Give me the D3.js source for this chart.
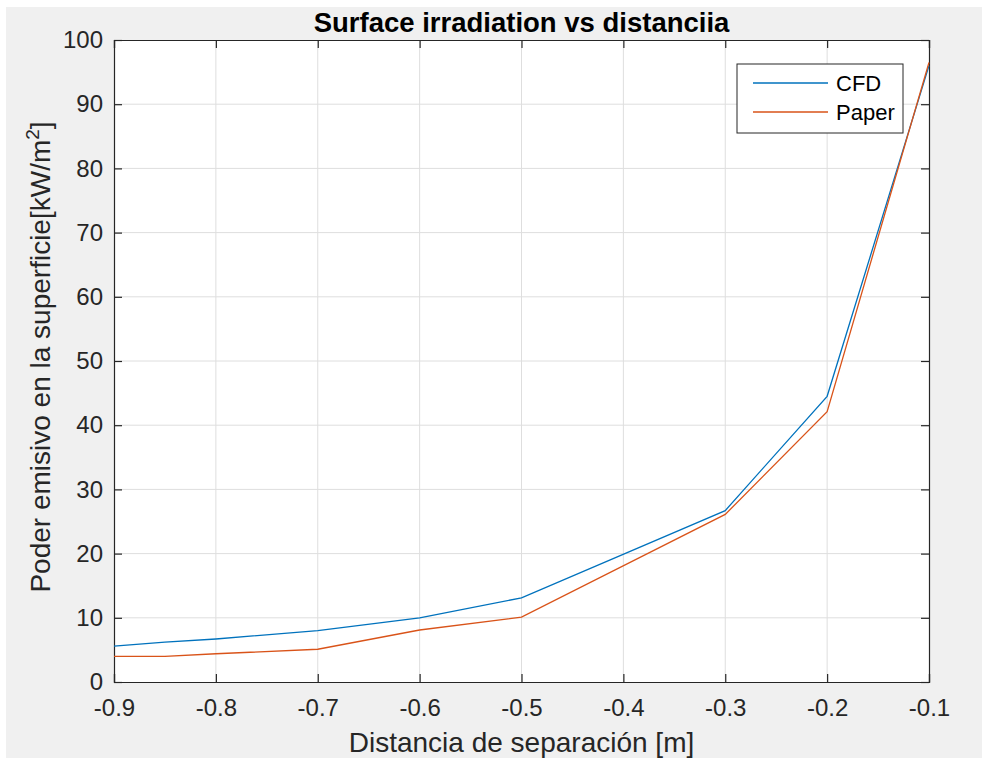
<!DOCTYPE html>
<html>
<head>
<meta charset="utf-8">
<script src="https://cdn.jsdelivr.net/npm/d3@7"></script>
<style>
  html, body { margin: 0; padding: 0; background: #f0f0f0; }
  svg { display: block; font-family: "Liberation Sans", Arial, Helvetica, sans-serif; }
</style>
</head>
<body>
<svg id="chart" width="982" height="758"></svg>
<script>
// Separation distance [m]
const distance = [-0.9, -0.85, -0.8, -0.7, -0.6, -0.5, -0.3, -0.2, -0.1];
// Surface emissive power [kW/m^2]
const cfdValues   = [5.6, 6.2, 6.7, 8.0, 10.0, 13.1, 26.7, 44.5, 96.0];
const paperValues = [4.0, 4.0, 4.4, 5.1, 8.1, 10.1, 26.1, 42.1, 96.5];

const seriesNames  = ["CFD", "Paper"];
const seriesColors = ["#0072BD", "#D95319"];

const xTicks = [-0.9, -0.8, -0.7, -0.6, -0.5, -0.4, -0.3, -0.2, -0.1];
const yTicks = [0, 10, 20, 30, 40, 50, 60, 70, 80, 90, 100];

const titleText = "Surface irradiation vs distanciia";
const xLabelText = "Distancia de separación [m]";

const svg = d3.select("#chart");
const plot = { left: 114, right: 929, top: 40, bottom: 682 };

const x = d3.scaleLinear().domain([-0.9, -0.1]).range([plot.left, plot.right]);
const y = d3.scaleLinear().domain([0, 100]).range([plot.bottom, plot.top]);

const axisColor = "#262626";

// thin white frame along the top and left edges of the figure window
svg.append("rect").attr("x", 0).attr("y", 0).attr("width", 982).attr("height", 7).attr("fill", "#ffffff");
svg.append("rect").attr("x", 0).attr("y", 0).attr("width", 6).attr("height", 758).attr("fill", "#ffffff");

// plot background
svg.append("rect")
  .attr("x", plot.left).attr("y", plot.top)
  .attr("width", plot.right - plot.left).attr("height", plot.bottom - plot.top)
  .attr("fill", "#ffffff");

// grid
const grid = svg.append("g").attr("stroke", "#dedede").attr("stroke-width", 1);
xTicks.slice(1, -1).forEach(t => {
  grid.append("line").attr("x1", x(t)).attr("x2", x(t))
    .attr("y1", plot.top).attr("y2", plot.bottom);
});
yTicks.slice(1, -1).forEach(t => {
  grid.append("line").attr("x1", plot.left).attr("x2", plot.right)
    .attr("y1", y(t)).attr("y2", y(t));
});

// axes (ticks inward, box on); tick labels use a plain hyphen for negatives
const tickLen = 8;
const fontSize = 24;
const fmtX = d => d3.format(".1f")(d).replace("\u2212", "-");
const xAxisB = d3.axisBottom(x).tickValues(xTicks).tickSize(-tickLen).tickPadding(tickLen + 9)
  .tickFormat(fmtX);
const xAxisT = d3.axisTop(x).tickValues(xTicks).tickSize(-tickLen).tickFormat("");
const yAxisL = d3.axisLeft(y).tickValues(yTicks).tickSize(-tickLen).tickPadding(tickLen + 3)
  .tickFormat(d3.format("d"));
const yAxisR = d3.axisRight(y).tickValues(yTicks).tickSize(-tickLen).tickFormat("");

function styleAxis(g) {
  g.select(".domain").attr("stroke", axisColor).attr("stroke-width", 1.2);
  g.selectAll(".tick line").attr("stroke", axisColor).attr("stroke-width", 1.2);
  g.selectAll(".tick text").attr("fill", axisColor)
    .style("font-size", fontSize + "px")
    .style("font-family", "'Liberation Sans', Arial, sans-serif");
}

svg.append("g").attr("transform", `translate(0,${plot.bottom})`).call(xAxisB).call(styleAxis);
svg.append("g").attr("transform", `translate(0,${plot.top})`).call(xAxisT).call(styleAxis);
svg.append("g").attr("transform", `translate(${plot.left},0)`).call(yAxisL).call(styleAxis);
svg.append("g").attr("transform", `translate(${plot.right},0)`).call(yAxisR).call(styleAxis);

// lines
const line = d3.line().x(d => x(d[0])).y(d => y(d[1]));
[cfdValues, paperValues].forEach((vals, i) => {
  svg.append("path")
    .datum(distance.map((d, j) => [d, vals[j]]))
    .attr("fill", "none")
    .attr("stroke", seriesColors[i])
    .attr("stroke-width", 1.3)
    .attr("d", line);
});

// title
svg.append("text")
  .attr("x", (plot.left + plot.right) / 2).attr("y", 32)
  .attr("text-anchor", "middle")
  .attr("fill", "#000")
  .style("font-size", "27.5px").style("font-weight", "bold")
  .text(titleText);

// x label
svg.append("text")
  .attr("x", (plot.left + plot.right) / 2).attr("y", 752)
  .attr("text-anchor", "middle")
  .attr("fill", axisColor)
  .style("font-size", "28px")
  .text(xLabelText);

// y label with superscript
const yl = svg.append("text")
  .attr("transform", `translate(50,357) rotate(-90)`)
  .attr("text-anchor", "middle")
  .attr("fill", axisColor)
  .style("font-size", "28px");
yl.append("tspan").text("Poder emisivo en la superficie[kW/m");
yl.append("tspan").attr("dy", -11).style("font-size", "19px").text("2");
yl.append("tspan").attr("dy", 11).text("]");

// legend
const lg = svg.append("g").attr("transform", "translate(737,64)");
lg.append("rect").attr("width", 166).attr("height", 69)
  .attr("fill", "#fff").attr("stroke", "#262626").attr("stroke-width", 1);
seriesNames.forEach((name, i) => {
  const cy = 19 + i * 29;
  lg.append("line").attr("x1", 16).attr("x2", 91).attr("y1", cy).attr("y2", cy)
    .attr("stroke", seriesColors[i]).attr("stroke-width", 1.3);
  lg.append("text").attr("x", 99).attr("y", cy + 8)
    .attr("fill", "#000").style("font-size", "22px").text(name);
});
</script>
</body>
</html>
